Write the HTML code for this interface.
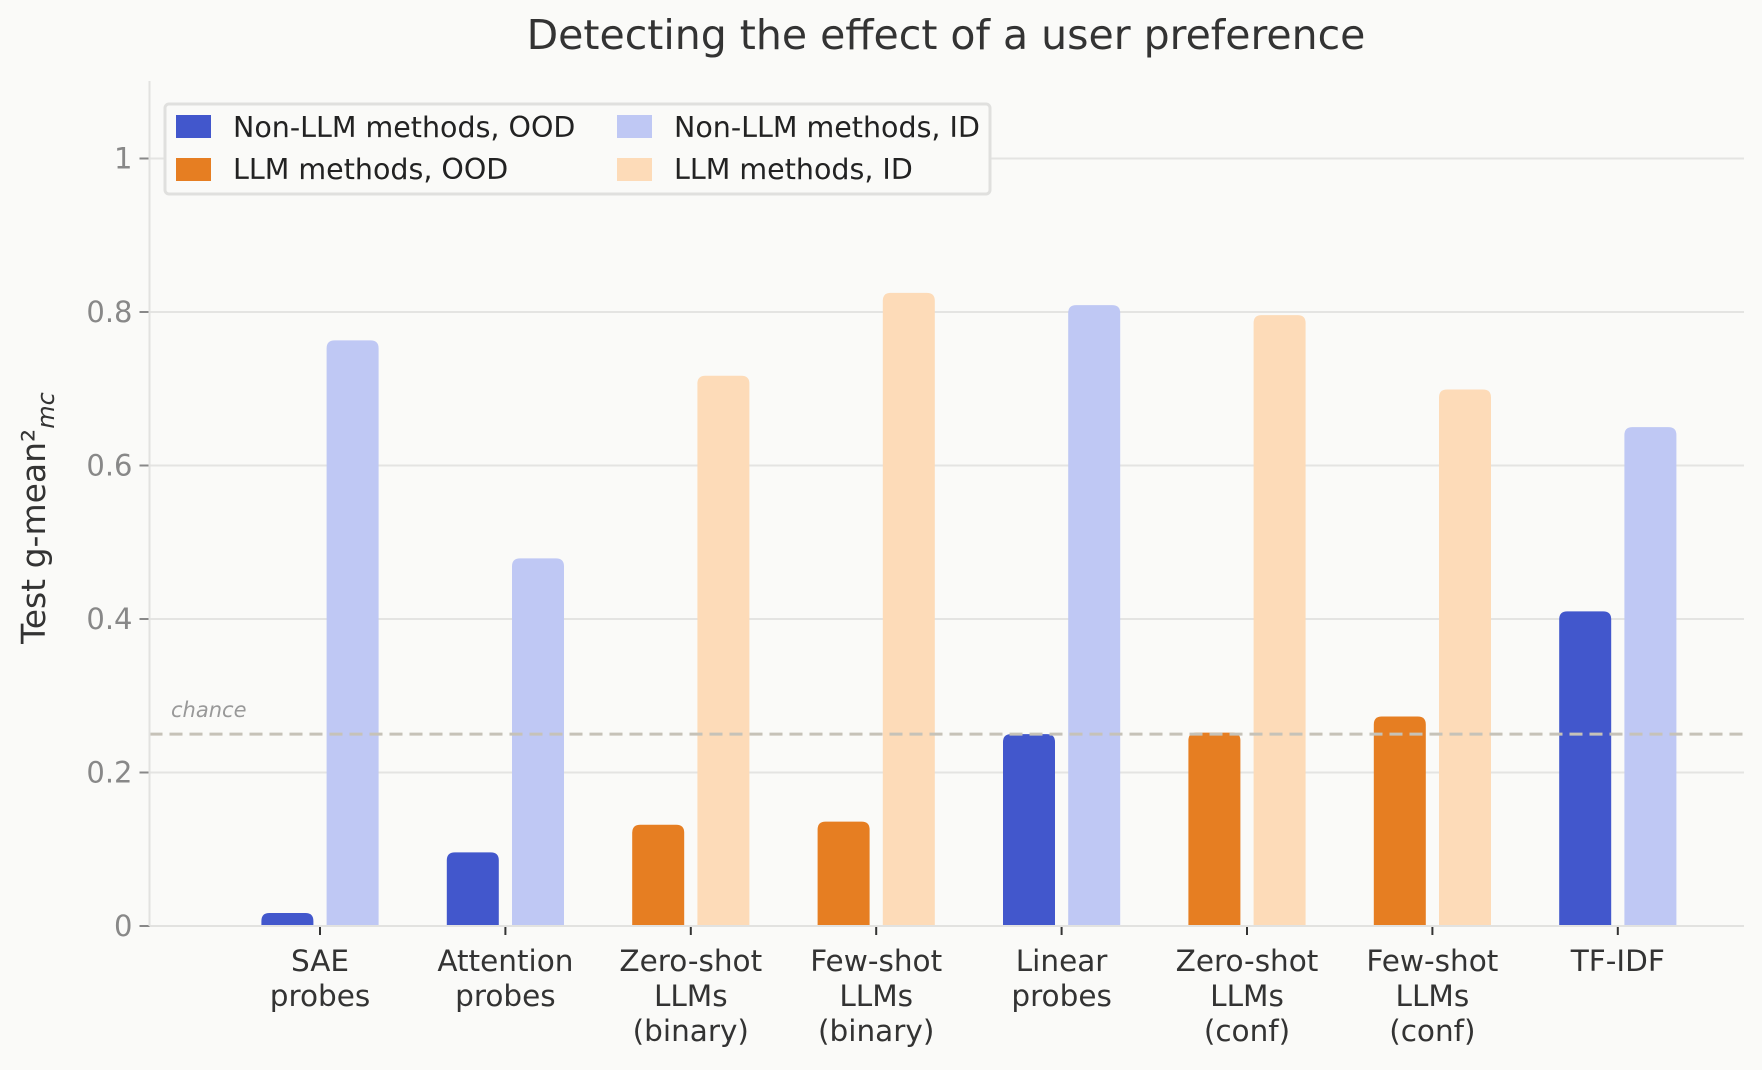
<!DOCTYPE html>
<html><head><meta charset="utf-8"><style>
html,body{margin:0;padding:0;background:#fafaf8;}
svg{display:block;font-family:"DejaVu Sans","Liberation Sans",sans-serif;}
</style></head><body>
<svg id="chart" width="1762" height="1070" viewBox="0 0 1762 1070">
<rect width="1762" height="1070" fill="#fafaf8"/>
<text x="946" y="49" text-anchor="middle" font-size="41" fill="#333">Detecting the effect of a user preference</text>
<g id="grid"></g>
<g id="bars"></g>
<g id="axes"></g>
<text transform="translate(45,518) rotate(-90)" text-anchor="middle" font-size="33" fill="#333">Test g-mean²<tspan font-style="italic" font-size="24" dy="9">mc</tspan></text>
<g>
<rect x="165" y="104" width="825" height="90" rx="4" fill="#fafaf8" stroke="#e0e0de" stroke-width="3"/>
<rect x="176" y="115" width="35" height="23" fill="#4257cc"/>
<text x="233" y="137" font-size="28.5" fill="#222">Non-LLM methods, OOD</text>
<rect x="176" y="158" width="35" height="23" fill="#e67e22"/>
<text x="233" y="179" font-size="28.5" fill="#222">LLM methods, OOD</text>
<rect x="617" y="115" width="35" height="23" fill="#bfc8f4"/>
<text x="674" y="137" font-size="28.5" fill="#222">Non-LLM methods, ID</text>
<rect x="617" y="158" width="35" height="23" fill="#fddbb8"/>
<text x="674" y="179" font-size="28.5" fill="#222">LLM methods, ID</text>
</g>
</svg>
<script>
const categories = [["SAE","probes"],["Attention","probes"],["Zero-shot","LLMs","(binary)"],["Few-shot","LLMs","(binary)"],["Linear","probes"],["Zero-shot","LLMs","(conf)"],["Few-shot","LLMs","(conf)"],["TF-IDF"]];
const oodValues = [0.017,0.096,0.132,0.136,0.250,0.252,0.273,0.410];
const idValues = [0.763,0.479,0.717,0.825,0.809,0.796,0.699,0.650];
const isLLM = [false,false,true,true,false,true,true,false];
const yTicks = [0,0.2,0.4,0.6,0.8,1];
const yTickLabels = ["0","0.2","0.4","0.6","0.8","1"];
const chanceLevel = 0.25;

const NS="http://www.w3.org/2000/svg";
const X0=149.5, X1=1744, Y0=926, Y1=158.5, YTOP=81;
const y = v => Y0 - v*(Y0-Y1);
const x = i => 320 + i*185.4;
const BW=52, OFF=32.6;
function mk(tag, attrs, parent){const e=document.createElementNS(NS,tag);for(const k in attrs)e.setAttribute(k,attrs[k]);parent.appendChild(e);return e;}
const grid=document.getElementById('grid'), bars=document.getElementById('bars'), axes=document.getElementById('axes');

yTicks.forEach((t,i)=>{
  const g=mk('line',{x1:X0,x2:X1,y1:y(t),y2:y(t),stroke:'#e4e4e2','stroke-width':2},grid);
  
  
  const tk=mk('line',{x1:X0-10,x2:X0,y1:y(t),y2:y(t),stroke:'#888','stroke-width':2},axes);
  
  
  const lb=mk('text',{x:X0-17,y:y(t)+10,'text-anchor':'end','font-size':29,fill:'#888'},axes);
  lb.textContent=yTickLabels[i];
  
  
});

function bar(cx,v,color){
  const top=y(v), h=Y0-top, r=Math.min(8,h);
  const p=mk('path',{d:`M${cx-BW/2},${Y0} L${cx-BW/2},${top+r} Q${cx-BW/2},${top} ${cx-BW/2+r},${top} L${cx+BW/2-r},${top} Q${cx+BW/2},${top} ${cx+BW/2},${top+r} L${cx+BW/2},${Y0} Z`,fill:color},bars);
  return p;
}
categories.forEach((c,i)=>{
  const b1=bar(x(i)-OFF,oodValues[i],isLLM[i]?'#e67e22':'#4257cc');
  
  
  const b2=bar(x(i)+OFF,idValues[i],isLLM[i]?'#fddbb8':'#bfc8f4');
  
  
  const tk=mk('line',{x1:x(i),x2:x(i),y1:Y0,y2:Y0+9,stroke:'#333','stroke-width':2},axes);
  
  
  const t=mk('text',{x:x(i),'text-anchor':'middle','font-size':29.5,fill:'#333'},axes);
  
  
  c.forEach((line,j)=>{const s=mk('tspan',{x:x(i),y:Y0+45+j*35},t);s.textContent=line;});
});

const ch=mk('line',{x1:X0,x2:X1,y1:y(chanceLevel),y2:y(chanceLevel),stroke:'#c6c2b8','stroke-width':3,'stroke-dasharray':'13,7'},bars);


const cl=mk('text',{x:171,y:y(chanceLevel)-17,'font-size':21,'font-style':'italic',fill:'#999'},bars);
cl.textContent='chance';



const ya=mk('line',{x1:X0,x2:X0,y1:YTOP,y2:Y0,stroke:'#e2e2e0','stroke-width':2},axes);


const xa=mk('line',{x1:X0,x2:X1,y1:Y0,y2:Y0,stroke:'#e2e2e0','stroke-width':2},axes);


</script>
</body></html>
